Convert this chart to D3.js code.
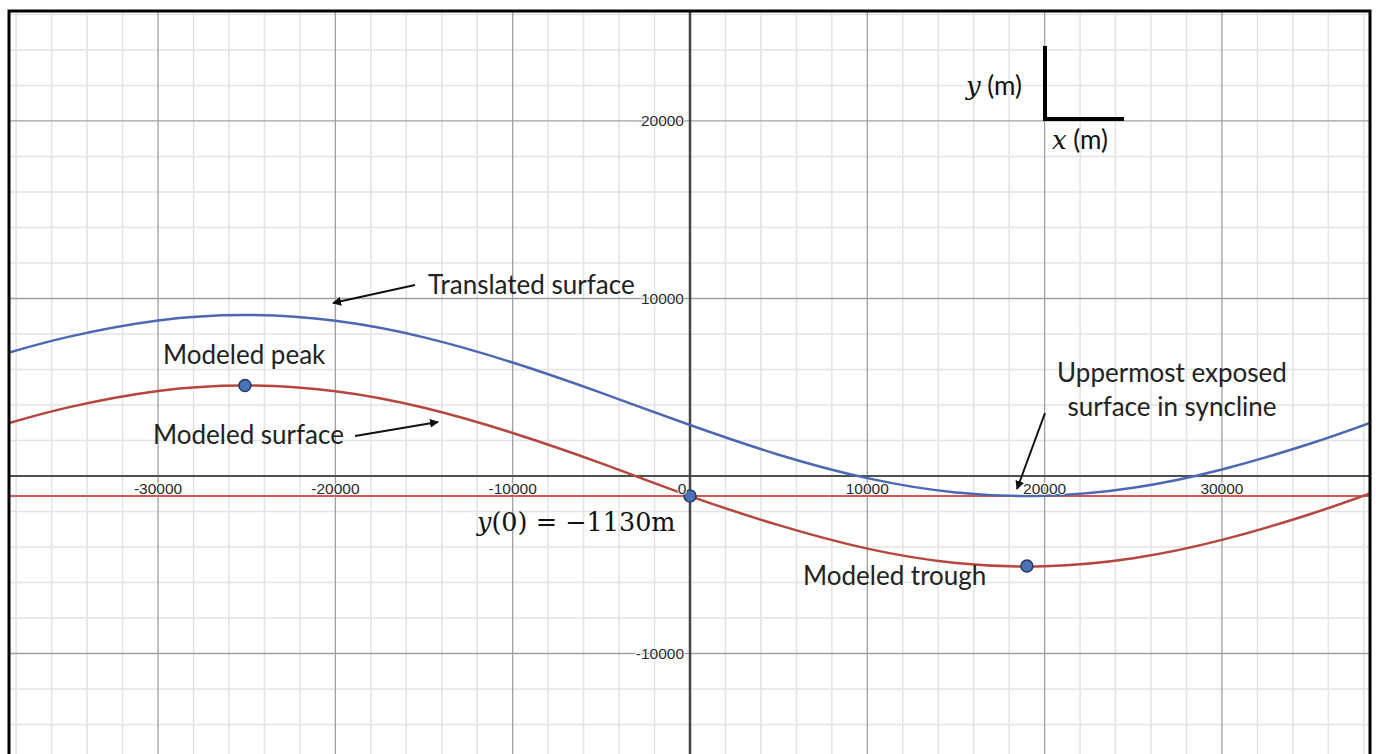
<!DOCTYPE html>
<html>
<head>
<meta charset="utf-8">
<script src="https://cdn.jsdelivr.net/npm/d3@7"></script>
<style>
  body { margin: 0; background: #fff; }
  svg { display: block; }
</style>
</head>
<body>
<div id="chart"></div>
<script>
// values (x and y in metres)
var surfaceX = [-38350, -35000, -30000, -25000, -20000, -15000, -10000, -5000, 0, 5000, 10000, 15000, 20000, 25000, 30000, 35000, 38350];
var modeledY = [3000, 3880, 4790, 5100, 4770, 3840, 2420, 710, -1130, -2770, -4090, -4900, -5080, -4630, -3600, -2140, -980];
var translatedY = [6970, 7850, 8760, 9070, 8740, 7810, 6390, 4680, 2870, 1200, -120, -930, -1110, -660, 370, 1830, 2990];

var markX = [-25100, 0, 19000];
var markY = [5100, -1130, -5070];

var exposedLevel = -1130;

var xTickLabels = ["-30000", "-20000", "-10000", "0", "10000", "20000", "30000"];
var yTickLabels = ["20000", "10000", "-10000"];

var width = 1376,
    height = 754;

var x = d3.scaleLinear().domain([-38350, 38350]).range([10, 1370]);
var y = d3.scaleLinear().domain([26250, -15660]).range([10, 754]);

var svg = d3.select("#chart")
    .append("svg")
    .attr("width", width)
    .attr("height", height);

svg.append("defs").append("clipPath")
    .attr("id", "clip")
    .append("rect")
    .attr("x", 10).attr("y", 11)
    .attr("width", 1360).attr("height", 760);

svg.append("defs").append("marker")
    .attr("id", "head")
    .attr("viewBox", "0 0 10 10")
    .attr("refX", 9).attr("refY", 5)
    .attr("markerWidth", 4.5).attr("markerHeight", 4.5)
    .attr("orient", "auto")
    .append("path")
    .attr("d", "M0,0 L10,5 L0,10 z")
    .attr("fill", "#111");

var plot = svg.append("g").attr("clip-path", "url(#clip)");

// grid
var minor = d3.range(-38000, 38001, 2000);
var minorY = d3.range(-16000, 26001, 2000);

plot.selectAll(".vminor").data(minor.filter(function (d) { return d % 10000 != 0; }))
    .enter().append("line")
    .attr("x1", function (d) { return x(d); }).attr("x2", function (d) { return x(d); })
    .attr("y1", 0).attr("y2", height)
    .style("stroke", "#e3e3e3").style("stroke-width", 1.5);

plot.selectAll(".hminor").data(minorY.filter(function (d) { return d % 10000 != 0; }))
    .enter().append("line")
    .attr("y1", function (d) { return y(d); }).attr("y2", function (d) { return y(d); })
    .attr("x1", 0).attr("x2", width)
    .style("stroke", "#e3e3e3").style("stroke-width", 1.5);

plot.selectAll(".vmajor").data([-30000, -20000, -10000, 10000, 20000, 30000])
    .enter().append("line")
    .attr("x1", function (d) { return x(d); }).attr("x2", function (d) { return x(d); })
    .attr("y1", 0).attr("y2", height)
    .style("stroke", "#a0a0a0").style("stroke-width", 1.3);

plot.selectAll(".hmajor").data([20000, 10000, -10000])
    .enter().append("line")
    .attr("y1", function (d) { return y(d); }).attr("y2", function (d) { return y(d); })
    .attr("x1", 0).attr("x2", width)
    .style("stroke", "#a0a0a0").style("stroke-width", 1.3);

// axes
plot.append("line")
    .attr("x1", 0).attr("x2", width)
    .attr("y1", y(0)).attr("y2", y(0))
    .style("stroke", "#4a504a").style("stroke-width", 2);

plot.append("line")
    .attr("x1", x(0)).attr("x2", x(0))
    .attr("y1", 0).attr("y2", height)
    .style("stroke", "#444").style("stroke-width", 2.5);

// tick labels
svg.selectAll(".xlab").data(xTickLabels)
    .enter().append("text")
    .attr("x", function (d) { return +d == 0 ? x(0) - 8 : x(+d); })
    .attr("y", y(0) + 14)
    .attr("text-anchor", "middle")
    .attr("dominant-baseline", "middle")
    .style("font-family", "Liberation Sans, Arial, sans-serif")
    .style("font-size", "15.5px")
    .style("fill", "#2a2a2a")
    .style("paint-order", "stroke")
    .style("stroke", "#fff").style("stroke-width", 2)
    .text(function (d) { return d; });

svg.selectAll(".ylab").data(yTickLabels)
    .enter().append("text")
    .attr("x", x(0) - 6)
    .attr("y", function (d) { return y(+d) + 1; })
    .attr("text-anchor", "end")
    .attr("dominant-baseline", "middle")
    .style("font-family", "Liberation Sans, Arial, sans-serif")
    .style("font-size", "15.5px")
    .style("fill", "#2a2a2a")
    .style("paint-order", "stroke")
    .style("stroke", "#fff").style("stroke-width", 2)
    .text(function (d) { return d; });

// y = -1130 line
plot.append("line")
    .attr("x1", 0).attr("x2", width)
    .attr("y1", y(exposedLevel)).attr("y2", y(exposedLevel))
    .style("stroke", "#cf5b52").style("stroke-width", 2);

var line = d3.line()
    .x(function (d) { return x(d[0]); })
    .y(function (d) { return y(d[1]); })
    .curve(d3.curveNatural);

plot.append("path")
    .attr("d", line(d3.zip(surfaceX, translatedY)))
    .style("fill", "none")
    .style("stroke", "#4c68b4")
    .style("stroke-width", 2.5);

plot.append("path")
    .attr("d", line(d3.zip(surfaceX, modeledY)))
    .style("fill", "none")
    .style("stroke", "#b6463d")
    .style("stroke-width", 2.5);

plot.selectAll("circle").data(d3.zip(markX, markY))
    .enter().append("circle")
    .attr("cx", function (d) { return x(d[0]); })
    .attr("cy", function (d) { return y(d[1]); })
    .attr("r", 6)
    .style("fill", "#4a72b6")
    .style("stroke", "#233a66")
    .style("stroke-width", 1.5);

// annotations
var font = "Lato, 'Noto Sans', sans-serif";

function note(txt, tx, ty, anchor) {
    svg.append("text")
        .attr("x", tx).attr("y", ty)
        .attr("text-anchor", anchor || "start")
        .attr("dominant-baseline", "middle")
        .style("font-family", font)
        .style("font-size", "26px")
        .style("fill", "#222")
        .text(txt);
}

note("Translated surface", 428, 287);
note("Modeled peak", 163, 357);
note("Modeled surface", 153, 437);
note("Uppermost exposed", 1172, 375, "middle");
note("surface in syncline", 1172, 409, "middle");
note("Modeled trough", 803, 578);

function arrow(x1, y1, x2, y2) {
    svg.append("line")
        .attr("x1", x1).attr("y1", y1)
        .attr("x2", x2).attr("y2", y2)
        .attr("marker-end", "url(#head)")
        .style("stroke", "#111")
        .style("stroke-width", 2);
}

arrow(415, 285, 333, 303);
arrow(355, 436, 438, 422);
arrow(1045, 413, 1017, 489);

// y(0) = -1130m
var eq = svg.append("text")
    .attr("x", 477).attr("y", 524)
    .attr("dominant-baseline", "middle")
    .style("font-family", "'DejaVu Serif', 'Liberation Serif', serif")
    .style("font-size", "25.5px")
    .style("fill", "#111");
eq.append("tspan").style("font-style", "italic").text("y");
eq.append("tspan").text("(0) = \u22121130m");

// unit key
svg.append("path")
    .attr("d", "M1045,46 L1045,119 L1124,119")
    .style("fill", "none")
    .style("stroke", "#000")
    .style("stroke-width", 4);

var ylab = svg.append("text")
    .attr("x", 966).attr("y", 88)
    .attr("dominant-baseline", "middle")
    .style("font-family", font)
    .style("font-size", "26px")
    .style("fill", "#111");
ylab.append("tspan").style("font-family", "'DejaVu Serif', serif").style("font-style", "italic").text("y");
ylab.append("tspan").text(" (m)");

var xlab = svg.append("text")
    .attr("x", 1052).attr("y", 142)
    .attr("dominant-baseline", "middle")
    .style("font-family", font)
    .style("font-size", "26px")
    .style("fill", "#111");
xlab.append("tspan").style("font-family", "'DejaVu Serif', serif").style("font-style", "italic").text("x");
xlab.append("tspan").text(" (m)");

// frame
svg.append("rect")
    .attr("x", 9).attr("y", 11)
    .attr("width", 1361).attr("height", 760)
    .style("fill", "none")
    .style("stroke", "#000")
    .style("stroke-width", 3);
</script>
</body>
</html>
